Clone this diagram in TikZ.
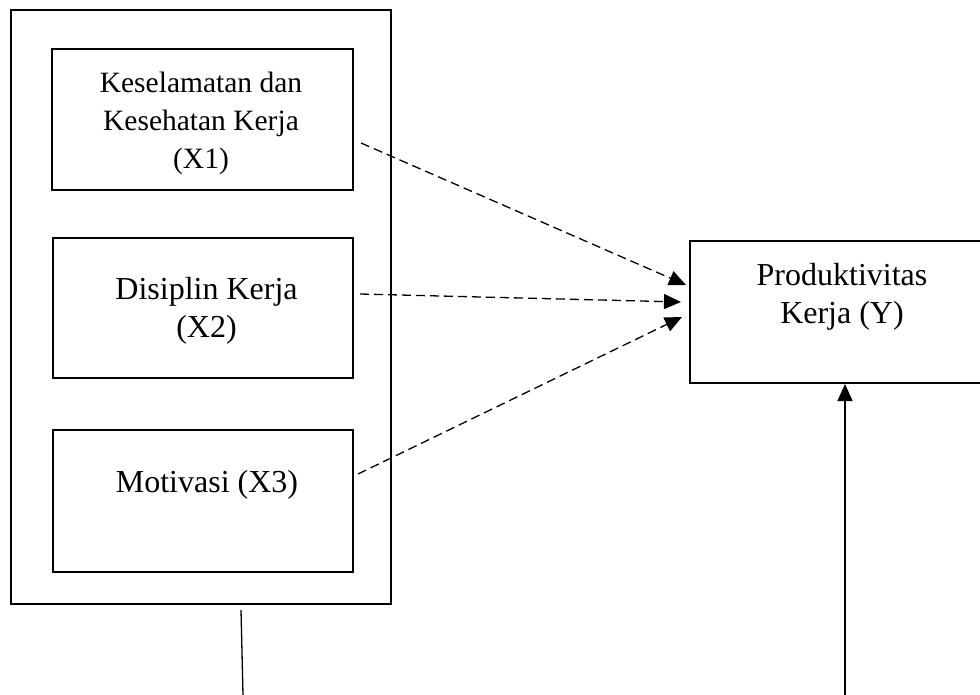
\documentclass[tikz,border=0pt]{standalone}
\usepackage{fontspec}
\setmainfont{Liberation Serif}
\usetikzlibrary{arrows.meta}
\begin{document}
\begin{tikzpicture}[x=1pt,y=-1pt,
  box/.style={draw,line width=2pt,inner sep=0pt,fill=none},
  lbl/.style={inner sep=0pt,align=center,font=\fontsize{32}{38}\selectfont},
  lblsmall/.style={inner sep=0pt,align=center,font=\fontsize{29.5}{38}\selectfont},
  dasharrow/.style={line width=1.3pt,dash pattern=on 9pt off 5pt,-{Triangle[length=17pt,width=15pt]}},
  solidarrow/.style={line width=1.3pt,-{Triangle[length=17pt,width=15pt]}},
  plainline/.style={line width=1.3pt}]
\useasboundingbox (0,0) rectangle (980,695);
\clip (0,0) rectangle (980,695);
\fill[white] (0,0) rectangle (980,695);
% boxes
\node[box,minimum width=380pt,minimum height=594pt] (outer) at (201,307) {};
\node[box,minimum width=301pt,minimum height=141pt] (x1) at (202.5,119.5) {};
\node[box,minimum width=300pt,minimum height=140pt] (x2) at (203,308) {};
\node[box,minimum width=300pt,minimum height=142pt] (x3) at (203,501) {};
\node[box,minimum width=304pt,minimum height=142pt] (y) at (842,312) {};
% texts
\node[lblsmall] (x1t) at (201,123) {Keselamatan dan\\Kesehatan Kerja\\(X1)};
\node[lbl] (x2t) at (206.5,310.5) {Disiplin Kerja\\(X2)};
\node[lbl,anchor=base] (x3t) at (207,492) {Motivasi (X3)};
\node[lbl] (yt) at (842,296.5) {Produktivitas\\Kerja (Y)};
% connector ends
\coordinate (s1) at (361,143);
\coordinate (s2) at (360,294);
\coordinate (s3) at (358,474);
\coordinate (e1) at (686,285);
\coordinate (e2) at (681,302);
\coordinate (e3) at (682,317);
\coordinate (b1) at (243,695);
\coordinate (b1top) at (241,610);
\coordinate (b2) at (845,695);
\draw[dasharrow] (s1) -- (e1);
\draw[dasharrow] (s2) -- (e2);
\draw[dasharrow] (s3) -- (e3);
\draw[plainline] (b1) -- (b1top);
\draw[solidarrow] (b2) -- (y.south -| b2);
\end{tikzpicture}
\end{document}
